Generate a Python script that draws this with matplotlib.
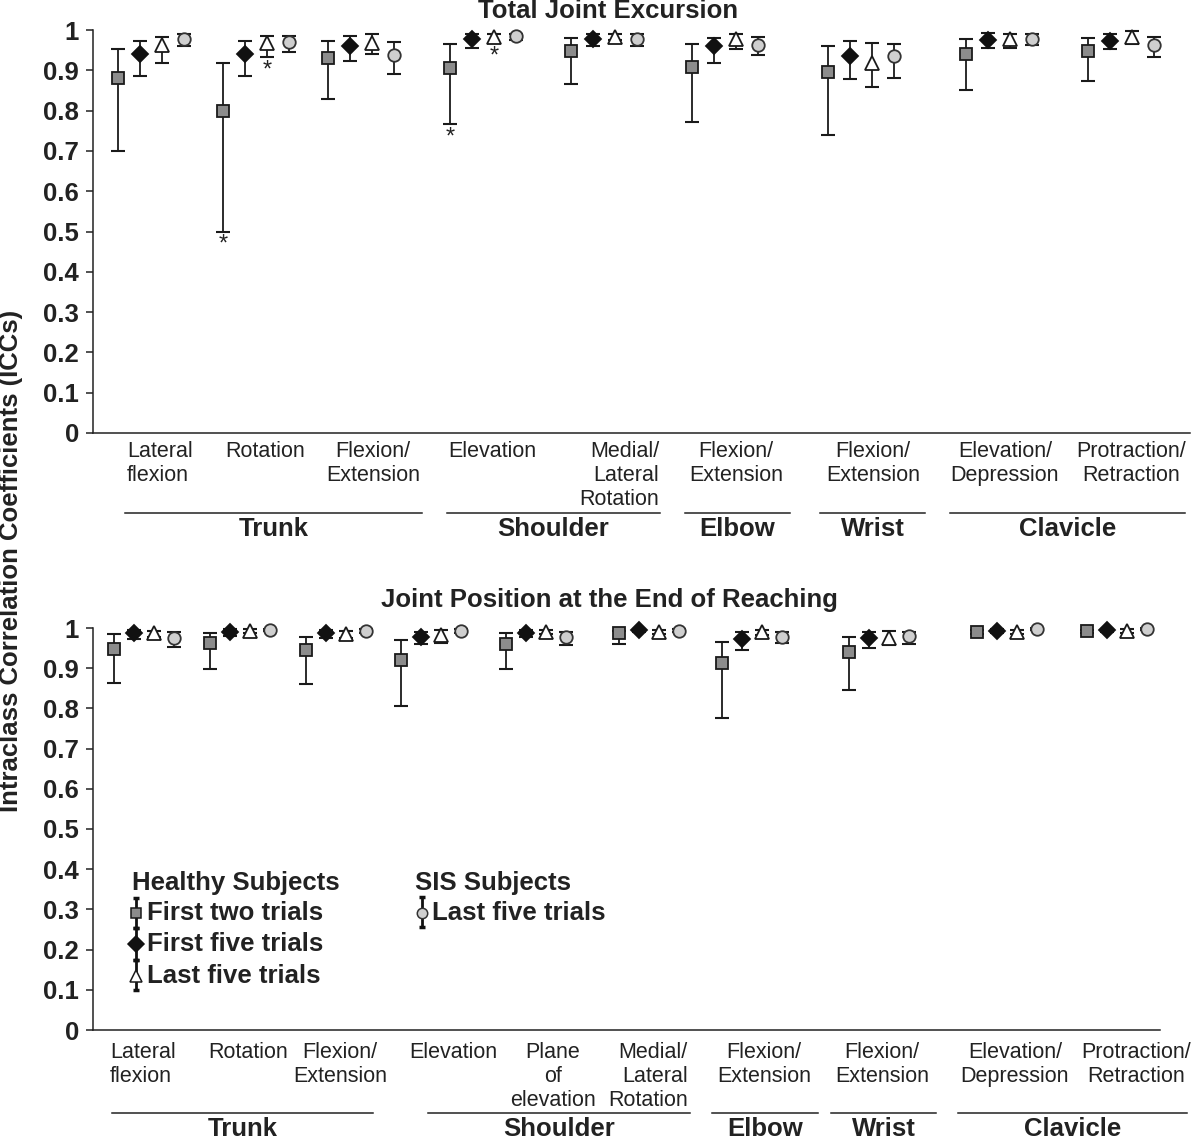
import matplotlib
matplotlib.use('Agg')
import matplotlib.pyplot as plt

plt.rcParams['font.family'] = ['Liberation Sans', 'DejaVu Sans']

W, H = 1200, 1139

# --- Total Joint Excursion (top) ---
tje_cats = ['Lateral\nflexion', 'Rotation', 'Flexion/\nExtension', 'Elevation',
            'Medial/\nLateral\nRotation', 'Flexion/\nExtension', 'Flexion/\nExtension',
            'Elevation/\nDepression', 'Protraction/\nRetraction']
tje_two_mean = [0.88, 0.80, 0.93, 0.905, 0.948, 0.907, 0.895, 0.94, 0.949]
tje_two_low = [0.70, 0.50, 0.83, 0.767, 0.866, 0.772, 0.739, 0.85, 0.874]
tje_two_high = [0.952, 0.919, 0.973, 0.965, 0.981, 0.965, 0.961, 0.977, 0.981]
tje_ff_mean = [0.94, 0.94, 0.96, 0.977, 0.978, 0.96, 0.936, 0.975, 0.973]
tje_ff_low = [0.887, 0.887, 0.924, 0.956, 0.96, 0.919, 0.878, 0.956, 0.952]
tje_ff_high = [0.973, 0.973, 0.985, 0.99, 0.99, 0.981, 0.973, 0.993, 0.99]
tje_lf_mean = [0.963, 0.967, 0.968, 0.983, 0.983, 0.977, 0.919, 0.977, 0.982]
tje_lf_low = [0.919, 0.932, 0.94, 0.968, 0.975, 0.952, 0.858, 0.956, 0.965]
tje_lf_high = [0.982, 0.985, 0.99, 0.99, 0.99, 0.99, 0.968, 0.99, 0.998]
tje_sis_mean = [0.978, 0.969, 0.938, 0.986, 0.978, 0.964, 0.936, 0.978, 0.964]
tje_sis_low = [0.96, 0.945, 0.891, 0.975, 0.96, 0.938, 0.88, 0.964, 0.932]
tje_sis_high = [0.99, 0.986, 0.969, 0.99, 0.99, 0.982, 0.965, 0.99, 0.982]
tje_stars = [(1, 0), (1, 2), (3, 0), (3, 2)]  # (category, series)

# --- Joint Position at the End of Reaching (bottom) ---
jpe_cats = ['Lateral\nflexion', 'Rotation', 'Flexion/\nExtension', 'Elevation',
            'Plane\nof\nelevation', 'Medial/\nLateral\nRotation', 'Flexion/\nExtension',
            'Flexion/\nExtension', 'Elevation/\nDepression', 'Protraction/\nRetraction']
jpe_two_mean = [0.947, 0.962, 0.945, 0.92, 0.959, 0.987, 0.912, 0.941, 0.991, 0.993]
jpe_two_low = [0.864, 0.897, 0.86, 0.806, 0.897, 0.96, 0.777, 0.846, 0.985, 0.988]
jpe_two_high = [0.984, 0.987, 0.978, 0.970, 0.987, 0.993, 0.966, 0.978, 0.995, 0.996]
jpe_ff_mean = [0.988, 0.991, 0.987, 0.978, 0.987, 0.995, 0.973, 0.974, 0.993, 0.995]
jpe_ff_low = [0.972, 0.98, 0.975, 0.96, 0.978, 0.99, 0.945, 0.95, 0.988, 0.99]
jpe_ff_high = [0.995, 0.997, 0.995, 0.99, 0.995, 0.998, 0.989, 0.989, 0.997, 0.998]
jpe_lf_mean = [0.987, 0.993, 0.985, 0.983, 0.991, 0.991, 0.989, 0.974, 0.99, 0.993]
jpe_lf_low = [0.978, 0.988, 0.975, 0.962, 0.985, 0.985, 0.982, 0.958, 0.985, 0.988]
jpe_lf_high = [0.993, 0.997, 0.993, 0.995, 0.996, 0.996, 0.995, 0.993, 0.995, 0.997]
jpe_sis_mean = [0.974, 0.996, 0.993, 0.993, 0.978, 0.993, 0.978, 0.98, 0.997, 0.998]
jpe_sis_low = [0.953, 0.992, 0.988, 0.988, 0.958, 0.99, 0.962, 0.96, 0.994, 0.996]
jpe_sis_high = [0.991, 0.998, 0.997, 0.997, 0.99, 0.997, 0.99, 0.99, 0.999, 0.999]

yticks = [0, 0.1, 0.2, 0.3, 0.4, 0.5, 0.6, 0.7, 0.8, 0.9, 1]
ytick_labels = ['0', '0.1', '0.2', '0.3', '0.4', '0.5', '0.6', '0.7', '0.8', '0.9', '1']

# layout (pixel positions of the first marker in each group, label anchors, joint brackets)
tje_pos = [118, 223, 328, 450, 571, 692, 828, 966, 1088]
jpe_pos = [114, 210, 306, 401, 506, 619, 722, 849, 977, 1087]
tje_lab = [(127, 'left'), (265, 'center'), (373, 'center'), (492, 'center'), (659, 'right'),
           (736, 'center'), (873, 'center'), (1005, 'center'), (1131, 'center')]
jpe_lab = [(110, 'left'), (248, 'center'), (340, 'center'), (453, 'center'), (553, 'center'),
           (688, 'right'), (764, 'center'), (882, 'center'), (1015, 'center'), (1136, 'center')]
joints = ['Trunk', 'Shoulder', 'Elbow', 'Wrist', 'Clavicle']
tje_brackets = [(125, 422), (447, 660), (685, 790), (820, 925), (950, 1185)]
jpe_brackets = [(112, 373), (428, 690), (712, 818), (831, 936), (958, 1187)]

styles = [dict(marker='s', ms=8.5, mfc='#8c8c8c', mec='#1a1a1a'),
          dict(marker='D', ms=8.5, mfc='#111111', mec='#111111'),
          dict(marker='^', ms=10, mfc='white', mec='#1a1a1a'),
          dict(marker='o', ms=9, mfc='#cfcfcf', mec='#333333')]

fig = plt.figure(figsize=(W / 100, H / 100), dpi=100)


def px(x, y):
    return x / W, 1 - y / H


def make_axes(left, right, top, bottom):
    ax = fig.add_axes([left / W, 1 - bottom / H, (right - left) / W, (bottom - top) / H])
    ax.set_xlim(left, right)
    ax.set_ylim(0, 1)
    for s in ['top', 'right']:
        ax.spines[s].set_visible(False)
    for s in ['left', 'bottom']:
        ax.spines[s].set_linewidth(1.1)
        ax.spines[s].set_color('#222222')
    ax.set_xticks([])
    ax.set_yticks(yticks)
    ax.set_yticklabels(ytick_labels, fontsize=18.5, fontweight='bold', color='#222222')
    ax.tick_params(axis='y', direction='out', length=5, width=1.1, pad=5, color='#222222')
    return ax


def draw_panel(ax, pos, step, series, stars=()):
    for k, (mean, low, high) in enumerate(series):
        for i in range(len(mean)):
            x = pos[i] + k * step
            ax.errorbar([x], [mean[i]], yerr=[[mean[i] - low[i]], [high[i] - mean[i]]],
                        fmt='none', ecolor='#1a1a1a', elinewidth=1.3, capsize=4.8,
                        capthick=1.5, clip_on=False, zorder=2)
            ax.plot([x], [mean[i]], ls='none', mew=1.3, clip_on=False, zorder=3, **styles[k])
    for i, k in stars:
        low = series[k][1][i]
        ax.text(pos[i] + k * step, low - 0.006, '*', ha='center', va='top', fontsize=17,
                color='#222222')


def draw_labels(cats, labs, y_top, brackets, y_line, y_joint):
    for cat, (x, al) in zip(cats, labs):
        fig.text(*px(x, y_top), cat, ha=al, va='top', multialignment=al,
                 fontsize=15.5, color='#222222', linespacing=1.2)
    for name, (x0, x1) in zip(joints, brackets):
        fig.add_artist(plt.Line2D([x0 / W, x1 / W], [1 - y_line / H] * 2,
                                  color='#222222', lw=1.1))
        fig.text(*px((x0 + x1) / 2, y_joint), name, ha='center', va='center',
                 fontsize=18.5, fontweight='bold', color='#222222')


ax1 = make_axes(93, 1190, 30, 433)
draw_panel(ax1, tje_pos, 22,
           [(tje_two_mean, tje_two_low, tje_two_high),
            (tje_ff_mean, tje_ff_low, tje_ff_high),
            (tje_lf_mean, tje_lf_low, tje_lf_high),
            (tje_sis_mean, tje_sis_low, tje_sis_high)], tje_stars)
draw_labels(tje_cats, tje_lab, 441, tje_brackets, 513, 529)

ax2 = make_axes(93, 1160, 628, 1030)
draw_panel(ax2, jpe_pos, 20,
           [(jpe_two_mean, jpe_two_low, jpe_two_high),
            (jpe_ff_mean, jpe_ff_low, jpe_ff_high),
            (jpe_lf_mean, jpe_lf_low, jpe_lf_high),
            (jpe_sis_mean, jpe_sis_low, jpe_sis_high)])
draw_labels(jpe_cats, jpe_lab, 1042, jpe_brackets, 1113, 1129)

fig.text(*px(608, 11), 'Total Joint Excursion', ha='center', va='center',
         fontsize=18.5, fontweight='bold', color='#222222')
fig.text(*px(609, 600), 'Joint Position at the End of Reaching', ha='center', va='center',
         fontsize=18.5, fontweight='bold', color='#222222')
fig.text(*px(11, 561), 'Intraclass Correlation Coefficients (ICCs)', ha='center', va='center',
         rotation=90, fontsize=18.5, fontweight='bold', color='#222222')

# legend, drawn by hand in the lower panel
leg_y = [0.291, 0.214, 0.134]
leg_caps = [(0.328, 0.254), (0.254, 0.174), (0.174, 0.100)]
leg_text = ['First two trials', 'First five trials', 'Last five trials']
for k in range(3):
    lo, hi = leg_caps[k][1], leg_caps[k][0]
    ax2.errorbar([136], [leg_y[k]], yerr=[[leg_y[k] - lo], [hi - leg_y[k]]], fmt='none',
                 ecolor='#111111', elinewidth=2, capsize=2.5, capthick=2.5)
    st = dict(styles[k])
    st['ms'] = st['ms'] * 0.9
    ax2.plot([136], [leg_y[k]], ls='none', mew=1.1, zorder=3, **st)
    ax2.text(147, leg_y[k], leg_text[k], ha='left', va='center', fontsize=18.5,
             fontweight='bold', color='#222222')
ax2.text(132, 0.366, 'Healthy Subjects', ha='left', va='center', fontsize=18.5,
         fontweight='bold', color='#222222')
ax2.text(415, 0.366, 'SIS Subjects', ha='left', va='center', fontsize=18.5,
         fontweight='bold', color='#222222')
ax2.errorbar([422], [0.291], yerr=[[0.291 - 0.256], [0.331 - 0.291]], fmt='none',
             ecolor='#111111', elinewidth=2, capsize=2.5, capthick=2.5)
st = dict(styles[3])
st['ms'] = 7.5
ax2.plot([422], [0.291], ls='none', mew=1.1, zorder=3, **st)
ax2.text(432, 0.291, 'Last five trials', ha='left', va='center', fontsize=18.5,
         fontweight='bold', color='#222222')

fig.savefig('out.png', dpi=100)
